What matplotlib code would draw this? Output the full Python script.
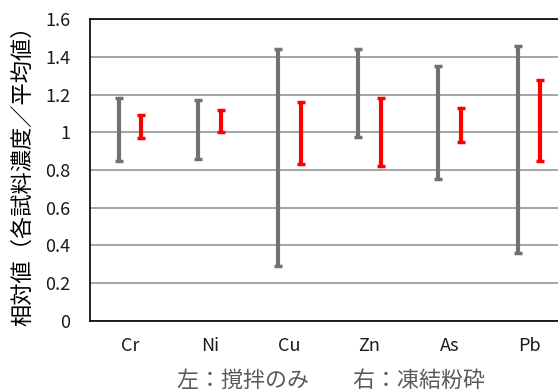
import matplotlib
matplotlib.use("Agg")
import matplotlib.pyplot as plt
import numpy as np

plt.rcParams['font.family'] = ['Noto Sans CJK JP', 'DejaVu Sans']

elements = ["Cr", "Ni", "Cu", "Zn", "As", "Pb"]
stir_low = [0.85, 0.86, 0.29, 0.975, 0.75, 0.36]
stir_high = [1.18, 1.17, 1.44, 1.44, 1.35, 1.46]
freeze_low = [0.97, 1.00, 0.83, 0.82, 0.95, 0.85]
freeze_high = [1.09, 1.12, 1.16, 1.18, 1.13, 1.28]
yticks = [0, 0.2, 0.4, 0.6, 0.8, 1, 1.2, 1.4, 1.6]
ytick_labels = ["0", "0.2", "0.4", "0.6", "0.8", "1", "1.2", "1.4", "1.6"]
ylabel = "相対値（各試料濃度／平均値）"
caption = "左：撹拌のみ　　右：凍結粉砕"

fig = plt.figure(figsize=(5.58, 3.91), dpi=100)
ax = fig.add_axes([90/558, 1-320.8/391, 479/558, 301.6/391])

x = np.arange(len(elements))
off = 0.142

def draw(xs, lo, hi, color):
    lo = np.array(lo); hi = np.array(hi)
    mid = (lo + hi) / 2
    ax.errorbar(xs, mid, yerr=[mid - lo, hi - mid], fmt='none', ecolor=color,
                elinewidth=3, capsize=3.2, capthick=2.5, zorder=3)

draw(x - off, stir_low, stir_high, '#767171')
draw(x + off, freeze_low, freeze_high, '#FF0000')

ax.set_xlim(-0.5, 5.5)
ax.set_ylim(0, 1.6)
ax.set_yticks(yticks)
ax.set_yticklabels(ytick_labels)
ax.set_xticks(x)
ax.set_xticklabels(elements)
ax.tick_params(axis='both', length=0, labelsize=13, colors='#1a1a1a')
ax.tick_params(axis='y', pad=14)
ax.tick_params(axis='x', pad=12)
ax.yaxis.grid(True, color='#8c8c8c', linewidth=1.1, zorder=0)
ax.set_axisbelow(True)
for s in ['left', 'top', 'bottom']:
    ax.spines[s].set_color('black')
    ax.spines[s].set_linewidth(1.2)
ax.spines['right'].set_visible(False)

fig.text(23/558, 1-170/391, ylabel, rotation=90, ha='center', va='center',
         fontsize=16, color='black')
fig.text(331/558, 1-381/391, caption, ha='center', va='center',
         fontsize=15.8, color='#595959')

fig.savefig("out.png", dpi=100)
